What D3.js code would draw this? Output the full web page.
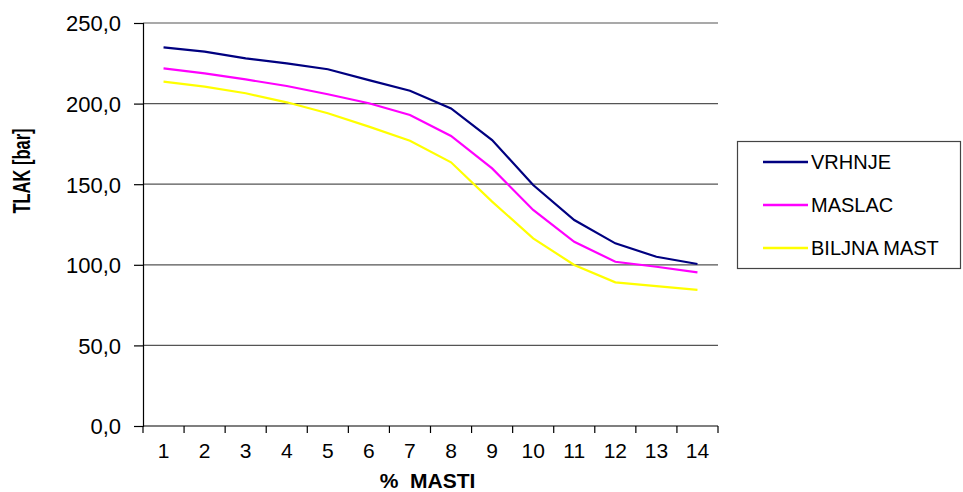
<!DOCTYPE html>
<html><head><meta charset="utf-8">
<script src="https://cdn.jsdelivr.net/npm/d3@7"></script>
<style>
body{margin:0;background:#fff;}
text{font-family:"Liberation Sans",Arial,sans-serif;fill:#000;}
</style></head>
<body><svg id="chart" width="963" height="492"></svg>
<script>
const categories = [1,2,3,4,5,6,7,8,9,10,11,12,13,14];
const seriesNames = ["VRHNJE","MASLAC","BILJNA MAST"];
const vrhnje = [234.9,232.2,228.1,225.0,221.3,214.6,208.0,197.0,177.4,149.5,127.8,113.3,105.0,100.5];
const maslac = [221.9,218.8,215.0,210.9,205.8,200.2,192.9,179.9,159.8,134.0,114.3,101.9,98.8,95.3];
const biljnaMast = [213.6,210.5,206.4,200.8,194.0,185.7,177.0,163.6,139.2,116.4,99.9,89.1,86.8,84.4];
const yTicks = [0,50,100,150,200,250];
const colors = ["#000080","#FF00FF","#FFFF00"];
const seriesValues = [vrhnje, maslac, biljnaMast];

const svg = d3.select("#chart");
const L=143, R=718, T=23, B=426;
const x = d3.scaleBand().domain(categories).range([L,R]);
const y = d3.scaleLinear().domain([0,250]).range([B,T]);
const fmt = v => d3.format(".1f")(v).replace(".", ",");

// gridlines
svg.append("g").selectAll("line").data(yTicks.filter(d=>d>0)).join("line")
  .attr("x1",L).attr("x2",R).attr("y1",d=>y(d)).attr("y2",d=>y(d))
  .attr("stroke","#555").attr("stroke-width",1.2);

// y axis
const yAxis = svg.append("g").attr("transform",`translate(${L},0)`)
  .call(d3.axisLeft(y).tickValues(yTicks).tickSize(9).tickFormat(fmt));
yAxis.select(".domain").attr("stroke","#000").attr("stroke-width",1.2);
yAxis.selectAll(".tick line").attr("stroke","#000").attr("stroke-width",1.2);
yAxis.selectAll(".tick text").attr("x",-22).attr("dy","0.36em")
  .style("font-size","22px").style("font-family","Liberation Sans, Arial, sans-serif").attr("fill","#000");

// x axis
const xAxis = svg.append("g").attr("transform",`translate(0,${B})`)
  .call(d3.axisBottom(x).tickSize(0).tickPadding(0));
xAxis.select(".domain").remove();
xAxis.selectAll(".tick text").attr("y",32).attr("dy",0)
  .style("font-size","21px").style("font-family","Liberation Sans, Arial, sans-serif").attr("fill","#000");
// x axis line and boundary ticks
svg.append("line").attr("x1",L).attr("x2",R).attr("y1",B).attr("y2",B).attr("stroke","#000").attr("stroke-width",1.2);
const bounds = categories.map(c=>x(c)).concat([R]);
svg.append("g").selectAll("line").data(bounds).join("line")
  .attr("x1",d=>d).attr("x2",d=>d).attr("y1",B).attr("y2",B+7)
  .attr("stroke","#000").attr("stroke-width",1.2);

// lines
const line = d3.line().x((d,i)=>x(categories[i])+x.bandwidth()/2).y(d=>y(d));
svg.append("g").selectAll("path").data(seriesValues).join("path")
  .attr("d",d=>line(d)).attr("fill","none")
  .attr("stroke",(d,i)=>colors[i]).attr("stroke-width",2.2);

// axis titles
svg.append("text").attr("x",(L+R)/2-3).attr("y",488).attr("text-anchor","middle")
  .style("font-size","21px").style("font-weight","bold").style("white-space","pre")
  .text("%  MASTI");
svg.append("text").attr("transform","translate(30,171) rotate(-90) scale(1,1.4)")
  .attr("text-anchor","middle").style("font-size","16.5px").style("font-weight","bold")
  .text("TLAK [bar]");

// legend
svg.append("rect").attr("x",737.5).attr("y",141.5).attr("width",223).attr("height",127)
  .attr("fill","#fff").attr("stroke","#444").attr("stroke-width",1.2);
const lg = svg.append("g").selectAll("g").data(seriesNames).join("g")
  .attr("transform",(d,i)=>`translate(0,${162+i*43})`);
lg.append("line").attr("x1",763).attr("x2",808).attr("y1",0).attr("y2",0)
  .attr("stroke",(d,i)=>colors[i]).attr("stroke-width",2.5);
lg.append("text").attr("x",811).attr("y",7).style("font-size","20px").text(d=>d);
</script></body></html>
